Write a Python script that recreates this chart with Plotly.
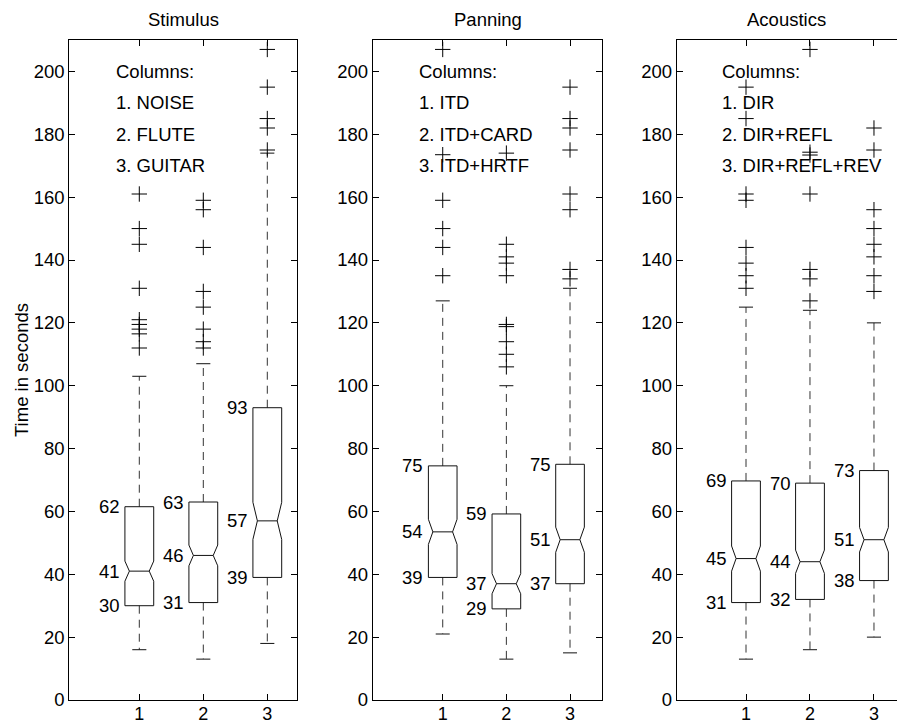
import plotly.graph_objects as go

# ---------------- data ----------------
panel_titles = ["Stimulus", "Panning", "Acoustics"]
legend_lines = [
    ["Columns:", "1. NOISE", "2. FLUTE", "3. GUITAR"],
    ["Columns:", "1. ITD", "2. ITD+CARD", "3. ITD+HRTF"],
    ["Columns:", "1. DIR", "2. DIR+REFL", "3. DIR+REFL+REV"],
]
columns = [1, 2, 3]
tick_labels = ["1", "2", "3"]
y_ticks = [0, 20, 40, 60, 80, 100, 120, 140, 160, 180, 200]

# Stimulus
stim_q1 = [30, 31, 39]
stim_med = [41, 46, 57]
stim_q3 = [61.5, 63, 93]
stim_lo = [16, 13, 18]
stim_hi = [103, 107, 174]
stim_notch = [3.2, 3.3, 5.9]
stim_out = [
    [161, 150, 145, 131, 121, 119.5, 118, 116.5, 112],
    [159, 156, 144, 130, 125, 118, 114, 112],
    [207, 195, 185, 182, 175],
]
stim_lbl_q3 = ["62", "63", "93"]
stim_lbl_med = ["41", "46", "57"]
stim_lbl_q1 = ["30", "31", "39"]

# Panning
pan_q1 = [39, 29, 37]
pan_med = [53.5, 37, 51]
pan_q3 = [74.5, 59.2, 75]
pan_lo = [21, 13, 15]
pan_hi = [127, 100, 131]
pan_notch = [4.0, 3.2, 4.0]
pan_out = [
    [207, 173.5, 159, 150, 144, 135],
    [174, 145, 141, 139, 135, 119.5, 118.8, 114, 110, 106],
    [195, 185, 182, 175, 161, 156, 137, 134],
]
pan_lbl_q3 = ["75", "59", "75"]
pan_lbl_med = ["54", "37", "51"]
pan_lbl_q1 = ["39", "29", "37"]

# Acoustics
aco_q1 = [31, 32, 38]
aco_med = [45, 44, 51]
aco_q3 = [69.7, 69, 73]
aco_lo = [13, 16, 20]
aco_hi = [125, 124, 120]
aco_notch = [4.0, 3.7, 3.9]
aco_out = [
    [195, 185, 161, 159, 144, 139, 135, 131],
    [207, 174.3, 173.4, 161, 137, 134, 127],
    [182, 175, 156, 150, 145, 141, 135, 130],
]
aco_lbl_q3 = ["69", "70", "73"]
aco_lbl_med = ["45", "44", "51"]
aco_lbl_q1 = ["31", "32", "38"]

panels = [
    (stim_q1, stim_med, stim_q3, stim_lo, stim_hi, stim_notch, stim_out,
     stim_lbl_q3, stim_lbl_med, stim_lbl_q1),
    (pan_q1, pan_med, pan_q3, pan_lo, pan_hi, pan_notch, pan_out,
     pan_lbl_q3, pan_lbl_med, pan_lbl_q1),
    (aco_q1, aco_med, aco_q3, aco_lo, aco_hi, aco_notch, aco_out,
     aco_lbl_q3, aco_lbl_med, aco_lbl_q1),
]

# ---------------- style / layout ----------------
W, H = 897, 724
FONT = "Liberation Sans, Arial, sans-serif"
FS = 18.5
BOX_HW = 0.225     # box half width (x units)
WAIST_HW = 0.155   # half width at median (notch waist)
CAP_HW = 0.11      # whisker cap half width
LINE_C = "#111111"

domains_px = [(69.3, 297.0), (372.7, 602.3), (676.7, 897.0)]
x_ranges = [[-0.094, 3.464], [-0.10, 3.507], [-0.083, 3.36]]

fig = go.Figure()
annotations = []

for p, (q1, med, q3, lo, hi, notch, outs, l3, lm, l1) in enumerate(panels):
    xa = "x" if p == 0 else f"x{p+1}"
    ya = "y" if p == 0 else f"y{p+1}"
    bx, by, mx, my, wx, wy, cx, cy, ox, oy = [], [], [], [], [], [], [], [], [], []
    for i, c in enumerate(columns):
        n = notch[i]
        pts = [
            (c - BOX_HW, q1[i]), (c + BOX_HW, q1[i]), (c + BOX_HW, med[i] - n),
            (c + WAIST_HW, med[i]), (c + BOX_HW, med[i] + n), (c + BOX_HW, q3[i]),
            (c - BOX_HW, q3[i]), (c - BOX_HW, med[i] + n), (c - WAIST_HW, med[i]),
            (c - BOX_HW, med[i] - n), (c - BOX_HW, q1[i]),
        ]
        bx += [pt[0] for pt in pts] + [None]
        by += [pt[1] for pt in pts] + [None]
        mx += [c - WAIST_HW, c + WAIST_HW, None]
        my += [med[i], med[i], None]
        wx += [c, c, None, c, c, None]
        wy += [q3[i], hi[i], None, q1[i], lo[i], None]
        cx += [c - CAP_HW, c + CAP_HW, None, c - CAP_HW, c + CAP_HW, None]
        cy += [hi[i], hi[i], None, lo[i], lo[i], None]
        ox += [c] * len(outs[i])
        oy += outs[i]
        for txt, val in ((l3[i], q3[i]), (lm[i], med[i]), (l1[i], q1[i])):
            annotations.append(dict(
                x=c - BOX_HW, y=val, xref=xa, yref=ya, text=txt, showarrow=False,
                xanchor="right", yanchor="middle", xshift=-3,
                font=dict(family=FONT, size=FS, color="black")))
    fig.add_trace(go.Scatter(x=wx, y=wy, xaxis=xa, yaxis=ya, mode="lines",
                             line=dict(color="#333333", width=1, dash="8px,6px"),
                             hoverinfo="skip", showlegend=False))
    fig.add_trace(go.Scatter(x=cx, y=cy, xaxis=xa, yaxis=ya, mode="lines",
                             line=dict(color=LINE_C, width=1),
                             hoverinfo="skip", showlegend=False))
    fig.add_trace(go.Scatter(x=bx, y=by, xaxis=xa, yaxis=ya, mode="lines",
                             line=dict(color=LINE_C, width=1),
                             hoverinfo="skip", showlegend=False))
    fig.add_trace(go.Scatter(x=mx, y=my, xaxis=xa, yaxis=ya, mode="lines",
                             line=dict(color=LINE_C, width=1),
                             hoverinfo="skip", showlegend=False))
    fig.add_trace(go.Scatter(x=ox, y=oy, xaxis=xa, yaxis=ya, mode="markers",
                             marker=dict(symbol="cross-thin", size=11, color="black",
                                         line=dict(width=1, color="black")),
                             hoverinfo="skip", showlegend=False))

    # legend-like text
    for k, line in enumerate(legend_lines[p]):
        annotations.append(dict(
            x=0.6, y=200 - 10 * k, xref=xa, yref=ya, text=line, showarrow=False,
            xanchor="left", yanchor="middle",
            font=dict(family=FONT, size=FS, color="black")))

    # panel title
    d0, d1 = domains_px[p]
    annotations.append(dict(
        x=(d0 + 220 / 2) / W if p == 2 else (d0 + d1) / 2 / W, y=1 + 21 / 660,
        xref="paper", yref="paper", text=panel_titles[p], showarrow=False,
        xanchor="center", yanchor="middle",
        font=dict(family=FONT, size=FS, color="black")))

    axis_common = dict(showgrid=False, zeroline=False, showline=True,
                       linecolor="black", linewidth=1, ticks="inside", ticklen=6,
                       tickcolor="black")
    tf = dict(family=FONT, size=FS, color="black")
    xkey = "xaxis" if p == 0 else f"xaxis{p+1}"
    ykey = "yaxis" if p == 0 else f"yaxis{p+1}"
    fig.update_layout(**{
        xkey: dict(domain=[d0 / W, d1 / W], range=x_ranges[p], tickvals=columns,
                   ticktext=tick_labels, mirror="ticks", anchor=ya,
                   tickfont=dict(family=FONT, size=18, color="black"),
                   ticklabelstandoff=-3, **axis_common),
        ykey: dict(domain=[0, 1], range=[0, 210], tickvals=y_ticks, tickfont=tf,
                   mirror="ticks" if p < 2 else False, anchor=xa, **axis_common),
    })

# y-axis title
annotations.append(dict(
    x=21 / W, y=0.5, xref="paper", yref="paper", text="Time in seconds",
    textangle=-90, showarrow=False, xanchor="center", yanchor="middle",
    font=dict(family=FONT, size=FS, color="black")))

fig.update_layout(
    width=W, height=H,
    margin=dict(l=0, r=0, t=40, b=24, autoexpand=False),
    paper_bgcolor="white", plot_bgcolor="white",
    annotations=annotations,
    showlegend=False,
)

fig.write_html("out.html", config={"displayModeBar": False},
               post_script="document.body.style.margin='0';document.body.style.padding='0';")
